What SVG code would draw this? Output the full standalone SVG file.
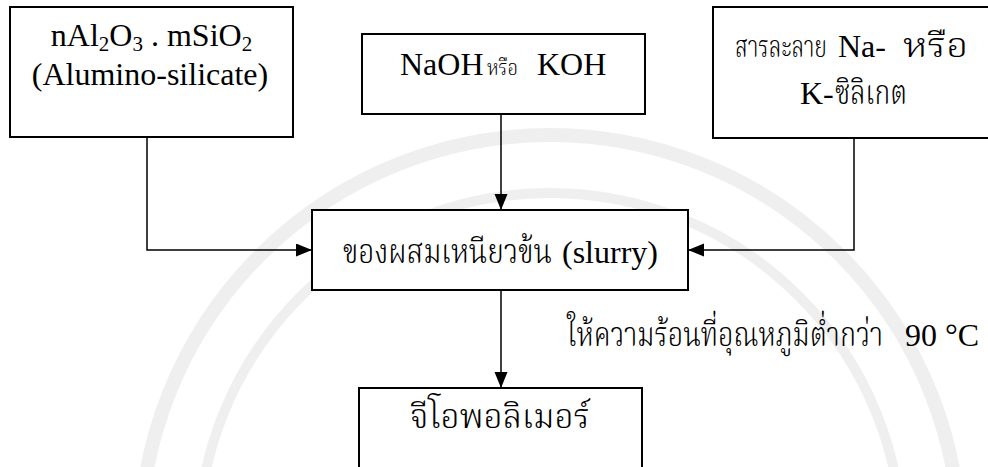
<svg xmlns="http://www.w3.org/2000/svg" width="988" height="467" viewBox="0 0 988 467">
<defs>
<style>
.box{fill:#ffffff;stroke:#000000;stroke-width:2}
.wm{fill:none;stroke:#efefef}
.conn{fill:none;stroke:#000000;stroke-width:1.5}
text{font-family:'Liberation Serif',serif;font-size:32px;fill:#000000}
.lat{font-family:'Liberation Serif',serif}
.lt{font-family:'Liberation Serif',serif;font-size:25.6px}
.hy{font-family:'Liberation Serif','DejaVu Serif',serif;font-size:25.6px}
.th{font-family:'Noto Serif Thai','Noto Sans Thai','Loma','DejaVu Sans',sans-serif;font-size:27px;font-weight:300}
.sub{font-size:21px}
</style>
<marker id="arr" markerUnits="userSpaceOnUse" markerWidth="17" markerHeight="14" refX="16" refY="6.5" orient="auto">
<path d="M0,0 L16,6.5 L0,13 Z" fill="#000000"/>
</marker>
</defs>
<rect width="988" height="467" fill="#ffffff"/>
<g id="watermark">
<circle class="wm" cx="550" cy="545" r="410" stroke-width="14"/>
<circle class="wm" cx="550" cy="545" r="352" stroke-width="10"/>
</g>
<g id="connectors">
<path class="conn" d="M147,137 V250 H312" marker-end="url(#arr)"/>
<path class="conn" d="M501,114 V210" marker-end="url(#arr)"/>
<path class="conn" d="M854,138 V250 H688" marker-end="url(#arr)"/>
<path class="conn" d="M501,290 V388" marker-end="url(#arr)"/>
</g>
<g id="node-aluminosilicate">
<rect class="box" x="10" y="7" width="283" height="130"/>
<text class="lat" x="151.5" y="46" text-anchor="middle">nAl<tspan class="sub" dy="5">2</tspan><tspan dy="-5">O</tspan><tspan class="sub" dy="5">3</tspan><tspan dy="-5"> . mSiO</tspan><tspan class="sub" dy="5">2</tspan></text>
<text class="lat" x="150" y="85" text-anchor="middle"><tspan>(Alumino</tspan><tspan class="hy" style="font-size:32px">-</tspan><tspan>silicate)</tspan></text>
</g>
<g id="node-hydroxide">
<rect class="box" x="362" y="34" width="283" height="80"/>
<text transform="translate(0,75) scale(1,1.25)" y="0"><tspan class="lt" x="400" textLength="83.5" lengthAdjust="spacingAndGlyphs">NaOH</tspan><tspan class="lt"> </tspan><tspan class="th" x="487" style="font-size:17.6px" textLength="31" lengthAdjust="spacingAndGlyphs">หรือ</tspan><tspan class="lt"> </tspan><tspan class="lt" x="537" textLength="69.3" lengthAdjust="spacingAndGlyphs">KOH</tspan></text>
</g>
<g id="node-silicate">
<rect class="box" x="713" y="7" width="280" height="131"/>
<text transform="translate(0,57) scale(1,1.25)" y="0"><tspan class="th" x="735" style="font-size:24px" textLength="92" lengthAdjust="spacingAndGlyphs">สารละลาย</tspan><tspan class="lt"> </tspan><tspan class="lt" x="838" textLength="37.3" lengthAdjust="spacingAndGlyphs">Na</tspan><tspan class="hy" x="875.3" textLength="10.7" lengthAdjust="spacingAndGlyphs">-</tspan><tspan class="lt"> </tspan><tspan class="th" x="903" textLength="65" lengthAdjust="spacingAndGlyphs">หรือ</tspan></text>
<text transform="translate(0,104) scale(1,1.25)" y="0"><tspan class="lt" x="800" textLength="23.1" lengthAdjust="spacingAndGlyphs">K</tspan><tspan class="hy" x="823.1" textLength="10.7" lengthAdjust="spacingAndGlyphs">-</tspan><tspan class="th" x="835" textLength="72" lengthAdjust="spacingAndGlyphs">ซิลิเกต</tspan></text>
</g>
<g id="node-slurry">
<rect class="box" x="312" y="210" width="376" height="80"/>
<text transform="translate(0,263) scale(1,1.25)" y="0"><tspan class="th" x="343" textLength="209" lengthAdjust="spacingAndGlyphs">ของผสมเหนียวข้น</tspan><tspan class="lt"> </tspan><tspan class="lt" x="562" textLength="96" lengthAdjust="spacingAndGlyphs">(slurry)</tspan></text>
</g>
<g id="label-heat">
<text transform="translate(0,346) scale(1,1.25)" y="0"><tspan class="th" x="567" textLength="316" lengthAdjust="spacingAndGlyphs">ให้ความร้อนที่อุณหภูมิต่ำกว่า</tspan><tspan class="lt"> </tspan><tspan class="lt" x="905" textLength="74" lengthAdjust="spacingAndGlyphs">90 °C</tspan></text>
</g>
<g id="node-geopolymer">
<rect class="box" x="359" y="388" width="283" height="100"/>
<text class="th" transform="translate(0,428) scale(1,1.25)" x="410" y="0" textLength="180" lengthAdjust="spacingAndGlyphs">จีโอพอลิเมอร์</text>
</g>
</svg>
